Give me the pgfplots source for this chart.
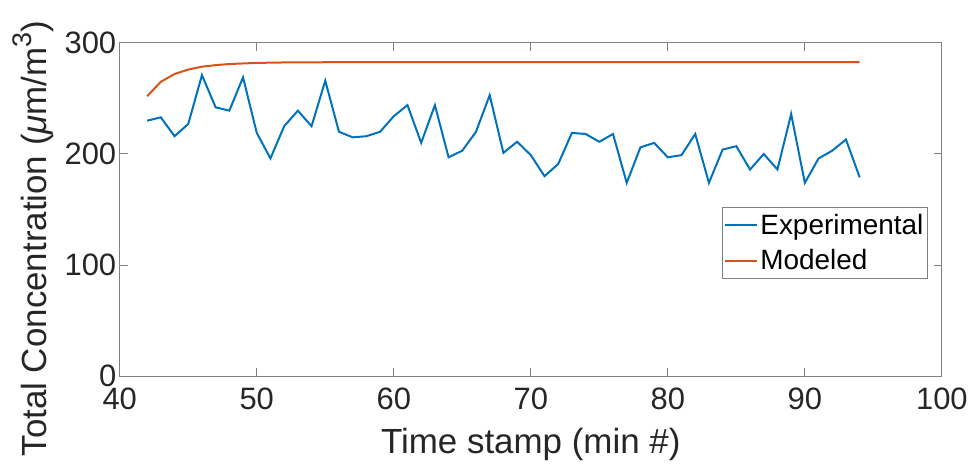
\documentclass[border=0pt]{standalone}
\usepackage{fontspec}
\setmainfont{Liberation Sans}
\usepackage{pgfplots}
\pgfplotsset{compat=1.18}
\definecolor{mblue}{HTML}{0072BD}
\definecolor{morange}{HTML}{D95319}
\definecolor{mtext}{HTML}{262626}
\definecolor{maxis}{HTML}{808080}

\begin{document}
\begin{tikzpicture}
\begin{axis}[
  scale only axis, width=824pt, height=334pt,
  xmin=40, xmax=100, ymin=0, ymax=300,
  xtick={40,50,60,70,80,90,100}, ytick={0,100,200,300},
  tick align=inside, major tick length=8pt,
  axis line style={maxis, line width=1pt},
  tick style={maxis, line width=1pt},
  tick label style={font=\fontsize{31}{36}\selectfont, text=mtext},
  xticklabel style={yshift=-8pt},
  label style={font=\fontsize{35}{40}\selectfont, text=mtext},
  /pgf/number format/assume math mode=true,
  xlabel={Time stamp (min \#)},
  xlabel style={at={(axis description cs:0.5,-0.2335)}, anchor=base},
  ylabel={Total Concentration ({\itshape μ}m/m\raisebox{0.45em}{\fontsize{27}{30}\selectfont 3})},
  ylabel style={at={(axis description cs:-0.0886,0.413)}, anchor=base},
  legend cell align=left,
  legend style={at={(0.983,0.509)}, anchor=north east, draw=maxis,
    line width=1pt, font=\fontsize{28}{33}\selectfont, text=black,
    inner xsep=2pt, inner ysep=5pt, row sep=10pt},
  legend image code/.code={\draw[#1, line width=2pt] (0pt,0pt) -- (32pt,0pt);},
]
\addplot[mblue, line width=2pt] coordinates {
  (42,230) (43,233) (44,216) (45,227) (46,271) (47,242) (48,239) (49,269)
  (50,219) (51,196) (52,225) (53,239) (54,225) (55,266) (56,220) (57,215)
  (58,216) (59,220) (60,234) (61,244) (62,210) (63,244) (64,197) (65,203)
  (66,220) (67,253) (68,201) (69,211) (70,199) (71,180) (72,191) (73,219)
  (74,218) (75,211) (76,218) (77,174) (78,206) (79,210) (80,197) (81,199)
  (82,218) (83,174) (84,204) (85,207) (86,186) (87,200) (88,186) (89,236)
  (90,174) (91,196) (92,203) (93,213) (94,179)};
\addlegendentry{Experimental}
\addplot[morange, line width=2pt] coordinates {
  (42,252) (43,265) (44,272) (45,276) (46,278.6) (47,280) (48,281) (49,281.5)
  (50,282) (52,282.4) (55,282.6) (60,282.6) (70,282.6) (80,282.6) (94,282.6)};
\addlegendentry{Modeled}
\coordinate (sw) at (rel axis cs:0,0);
\coordinate (ne) at (rel axis cs:1,1);
\end{axis}
\path (sw) ++(-120pt,-88pt) (ne) ++(27pt,43pt);
\end{tikzpicture}
\end{document}
